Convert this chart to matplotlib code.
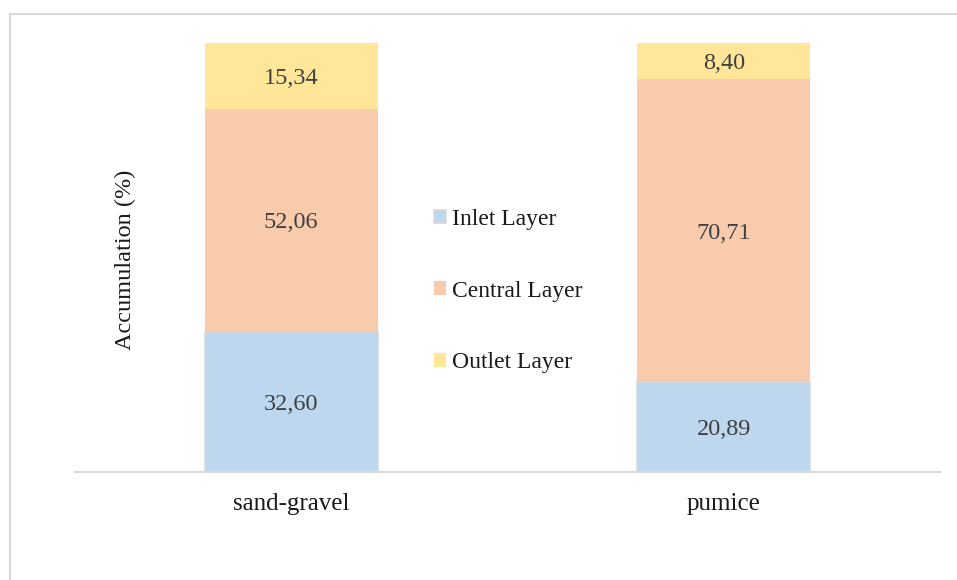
import matplotlib
matplotlib.use("Agg")
import matplotlib.pyplot as plt
from matplotlib.lines import Line2D

plt.rcParams['font.family'] = ['Liberation Serif', 'DejaVu Serif']

categories = ["sand-gravel", "pumice"]
layers = ["Inlet Layer", "Central Layer", "Outlet Layer"]
inlet = [32.60, 20.89]
central = [52.06, 70.71]
outlet = [15.34, 8.40]
series = [inlet, central, outlet]
colors = ["#BDD7EE", "#F8CBAD", "#FFE699"]
edges = ["#D9D9D9", "none", "none"]

fig = plt.figure(figsize=(9.57, 5.8), dpi=100)
ax = fig.add_axes([75 / 957, 1 - 472 / 580, 865 / 957, 429 / 580])

x = list(range(len(categories)))
bottom = [0.0] * len(categories)
for name, vals, c, ec in zip(layers, series, colors, edges):
    ax.bar(x, vals, width=0.4, bottom=bottom, color=c, edgecolor=ec,
           linewidth=1.2, label=name)
    for xi, v, b in zip(x, vals, bottom):
        ax.text(xi, b + v / 2, f"{v:.2f}".replace(".", ","), ha="center",
                va="center_baseline", fontsize=17.5, color="#404040")
    bottom = [b + v for b, v in zip(bottom, vals)]

ax.set_xlim(-0.5, 1.5)
ax.set_ylim(0, 100)
ax.set_yticks([])
ax.set_xticks(x)
ax.set_xticklabels(categories, fontsize=18, color="#1a1a1a")
ax.tick_params(axis="x", length=0, pad=15)
for s in ["top", "left", "right"]:
    ax.spines[s].set_visible(False)
ax.spines["bottom"].set_color("#D9D9D9")
ax.spines["bottom"].set_linewidth(1.5)

fig.text(125 / 957, 1 - 260 / 580, "Accumulation (%)", rotation=90,
         ha="center", va="center", fontsize=17.5, color="#1a1a1a")

leg = ax.legend(loc="center", bbox_to_anchor=(508 / 957, 1 - 291 / 580),
                bbox_transform=fig.transFigure, frameon=False, fontsize=17,
                handlelength=0.5, handleheight=0.5, handletextpad=0.25,
                labelspacing=2.15)
for t in leg.get_texts():
    t.set_color("#1a1a1a")

# outer frame of the chart area
fig.add_artist(Line2D([10 / 957, 10 / 957], [0, 1 - 14 / 580],
                      transform=fig.transFigure, color="#D9D9D9", lw=1.5))
fig.add_artist(Line2D([10 / 957, 1], [1 - 14 / 580, 1 - 14 / 580],
                      transform=fig.transFigure, color="#D9D9D9", lw=1.5))

fig.savefig("out.png", dpi=100, facecolor="white")
